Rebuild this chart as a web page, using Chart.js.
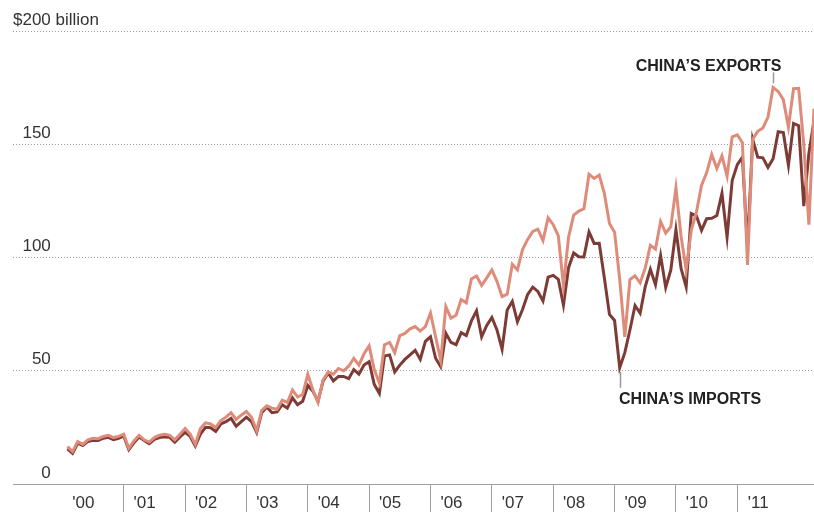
<!DOCTYPE html>
<html>
<head>
<meta charset="utf-8">
<script src="https://cdn.jsdelivr.net/npm/chart.js@4/dist/chart.umd.min.js"></script>
<style>
  html, body { margin: 0; padding: 0; background: #fff; }
</style>
</head>
<body>
<canvas id="chart" width="814" height="512"></canvas>
<script>
// Monthly trade, $ billion, Jan 2000 .. Mar 2012 (index 0 = Jan 2000)
const exportsBn = [
  16.5, 14.3, 18.7, 17.5, 19.5, 20.2, 20.0, 21.0, 21.5, 20.5, 21.0, 22.0,
  15.8, 19.0, 21.5, 19.5, 18.5, 20.5, 21.5, 22.0, 21.5, 19.5, 22.0, 24.5,
  22.0, 17.5, 24.5, 27.0, 26.5, 25.0, 28.0, 29.5, 31.5, 28.5, 30.5, 32.0,
  29.5, 23.5, 32.5, 34.5, 33.5, 33.0, 37.0, 36.0, 41.5, 38.5, 39.5, 48.5,
  41.5, 36.0, 46.0, 49.5, 48.5, 51.0, 50.0, 52.0, 55.5, 52.5, 57.5, 61.0,
  50.5, 44.5, 61.5, 62.5, 58.0, 65.5, 66.5, 68.5, 69.5, 67.5, 69.5, 75.5,
  65.0, 54.5, 78.3, 73.2, 74.5, 81.4, 80.0, 90.5, 91.8, 87.7, 91.0, 94.5,
  89.5, 82.7, 83.8, 97.0, 94.5, 103.5, 108.0, 111.5, 112.5, 107.5, 117.5, 114.5,
  109.5, 87.5, 109.0, 118.7, 120.5, 121.5, 136.7, 134.9, 136.4, 128.3, 115.0, 111.2,
  90.5, 65.0, 90.3, 91.9, 88.8, 95.4, 105.4, 103.7, 115.9, 110.8, 113.6, 130.7,
  109.5, 94.5, 112.1, 119.9, 131.8, 137.4, 145.5, 139.3, 144.9, 135.9, 153.3, 154.2,
  150.7, 96.7, 152.2, 155.7, 157.2, 162.0, 175.1, 173.3, 169.7, 157.5, 174.5, 174.7,
  149.9, 114.5, 165.7
];
const importsBn = [
  15.5, 13.5, 18.0, 17.0, 18.8, 19.3, 19.2, 20.2, 20.6, 19.6, 20.2, 21.2,
  15.2, 18.2, 20.7, 19.2, 17.8, 19.7, 20.5, 20.8, 20.6, 18.5, 20.8, 22.8,
  21.0, 16.8, 22.0, 25.0, 24.8, 23.2, 26.5, 27.5, 29.0, 25.5, 27.5, 29.5,
  27.5, 22.8, 31.5, 34.0, 31.5, 31.8, 35.0, 33.5, 38.0, 35.0, 36.5, 43.5,
  41.0, 36.5, 45.5, 49.0, 45.5, 47.5, 47.5, 46.5, 50.5, 48.5, 52.5, 54.0,
  44.0, 40.0, 56.5, 57.0, 49.5, 52.5, 55.0, 57.0, 59.0, 55.0, 63.0, 65.0,
  55.5, 51.8, 66.5, 62.5, 61.5, 66.8, 65.5, 72.0, 76.5, 65.0, 70.0, 73.5,
  68.0, 59.5, 76.8, 80.6, 71.6, 77.0, 83.7, 86.9, 85.0, 80.8, 91.3, 92.1,
  90.4, 79.0, 95.5, 102.0, 100.3, 100.2, 111.3, 106.2, 106.3, 91.0, 74.9, 72.2,
  51.3, 58.0, 68.0, 78.8, 75.4, 87.2, 94.8, 88.0, 100.9, 86.8, 94.5, 112.3,
  95.2, 87.0, 119.4, 118.4, 112.0, 117.1, 117.3, 118.5, 128.3, 109.0, 134.0, 141.0,
  144.3, 104.6, 152.2, 144.3, 144.0, 139.8, 143.6, 155.5, 155.2, 140.7, 159.2, 158.2,
  122.7, 145.9, 160.4
];
const yearLabels = ["'00", "'01", "'02", "'03", "'04", "'05", "'06", "'07", "'08", "'09", "'10", "'11"];
const yTickValues = [0, 50, 100, 150, 200];
const yTickText = ['\u2007\u2007\u20070', '\u2007\u200750', '\u2007100', '\u2007150', '$200 billion'];

const FONT = '"Liberation Sans", Arial, Helvetica, sans-serif';
const EXPORT_COLOR = '#de8c79';
const IMPORT_COLOR = '#7d3b36';
const EXPORT_NOTE_AT = 138; // Jul 2011
const IMPORT_NOTE_AT = 108; // Jan 2009

const toPoints = arr => arr.map((v, i) => ({ x: i, y: v }));

// year separators sit at month 12k-1, year labels a few months in
const boundaryTicks = yearLabels.slice(1).map((_, k) => 12 * (k + 1) - 1);
const labelTicks = yearLabels.map((_, k) => 12 * k + 3.1);

const notes = {
  id: 'notes',
  afterDraw(chart) {
    const { ctx, scales: { x, y } } = chart;
    ctx.save();
    ctx.font = 'bold 16px ' + FONT;
    ctx.fillStyle = '#222';
    ctx.strokeStyle = '#9a9a9a';
    ctx.lineWidth = 1.5;
    ctx.textBaseline = 'middle';

    // exports label
    const ex = Math.round(x.getPixelForValue(EXPORT_NOTE_AT)) + 0.5;
    const ey = y.getPixelForValue(exportsBn[EXPORT_NOTE_AT]);
    ctx.beginPath();
    ctx.moveTo(ex, ey - 15);
    ctx.lineTo(ex, ey - 4);
    ctx.stroke();
    ctx.textAlign = 'right';
    ctx.fillText("CHINA\u2019S EXPORTS", ex + 8, ey - 21);

    // imports label
    const ix = Math.round(x.getPixelForValue(IMPORT_NOTE_AT)) + 0.5;
    const iy = y.getPixelForValue(importsBn[IMPORT_NOTE_AT]);
    ctx.beginPath();
    ctx.moveTo(ix, iy + 4);
    ctx.lineTo(ix, iy + 20);
    ctx.stroke();
    ctx.textAlign = 'left';
    ctx.fillText("CHINA\u2019S IMPORTS", ix - 1.5, iy + 32);
    ctx.restore();
  }
};

new Chart(document.getElementById('chart').getContext('2d'), {
  type: 'line',
  data: {
    datasets: [
      {
        label: "China's exports",
        data: toPoints(exportsBn),
        borderColor: EXPORT_COLOR,
        borderWidth: 3,
        pointRadius: 0,
        tension: 0,
        order: 0
      },
      {
        label: "China's imports",
        data: toPoints(importsBn),
        borderColor: IMPORT_COLOR,
        borderWidth: 3,
        pointRadius: 0,
        tension: 0,
        order: 1
      }
    ]
  },
  options: {
    responsive: false,
    animation: false,
    devicePixelRatio: 1,
    layout: { padding: { top: 31, left: 13, right: 0, bottom: 0 } },
    plugins: { legend: { display: false }, tooltip: { enabled: false } },
    scales: {
      x: {
        type: 'linear',
        min: -10.65,
        max: 146,
        afterBuildTicks: scale => {
          scale.ticks = boundaryTicks.concat(labelTicks)
            .sort((a, b) => a - b)
            .map(v => ({ value: v }));
        },
        afterFit: scale => { scale.height = 28; },
        grid: {
          drawOnChartArea: false,
          drawTicks: true,
          tickLength: 28,
          tickWidth: 1,
          tickColor: ctx => boundaryTicks.includes(ctx.tick && ctx.tick.value) ? '#a0a0a0' : 'rgba(0,0,0,0)'
        },
        border: { display: true, color: '#a0a0a0', width: 1 },
        ticks: {
          autoSkip: false,
          maxRotation: 0,
          padding: -19,
          color: '#333',
          font: { family: FONT, size: 17 },
          callback: value => {
            const k = labelTicks.indexOf(value);
            return k >= 0 ? yearLabels[k] : '';
          }
        }
      },
      y: {
        min: 0,
        max: 200,
        afterBuildTicks: scale => { scale.ticks = yTickValues.map(v => ({ value: v })); },
        afterFit: scale => { scale.width = 0; },
        grid: {
          drawTicks: false,
          color: ctx => (ctx.tick && ctx.tick.value === 0) ? 'rgba(0,0,0,0)' : '#9c9c9c',
          lineWidth: 1
        },
        border: { display: false, dash: [1, 2] },
        ticks: {
          mirror: true,
          padding: 0,
          labelOffset: -11,
          color: '#333',
          font: { family: FONT, size: 17 },
          callback: value => yTickText[yTickValues.indexOf(value)]
        }
      }
    }
  },
  plugins: [notes]
});
</script>
</body>
</html>
